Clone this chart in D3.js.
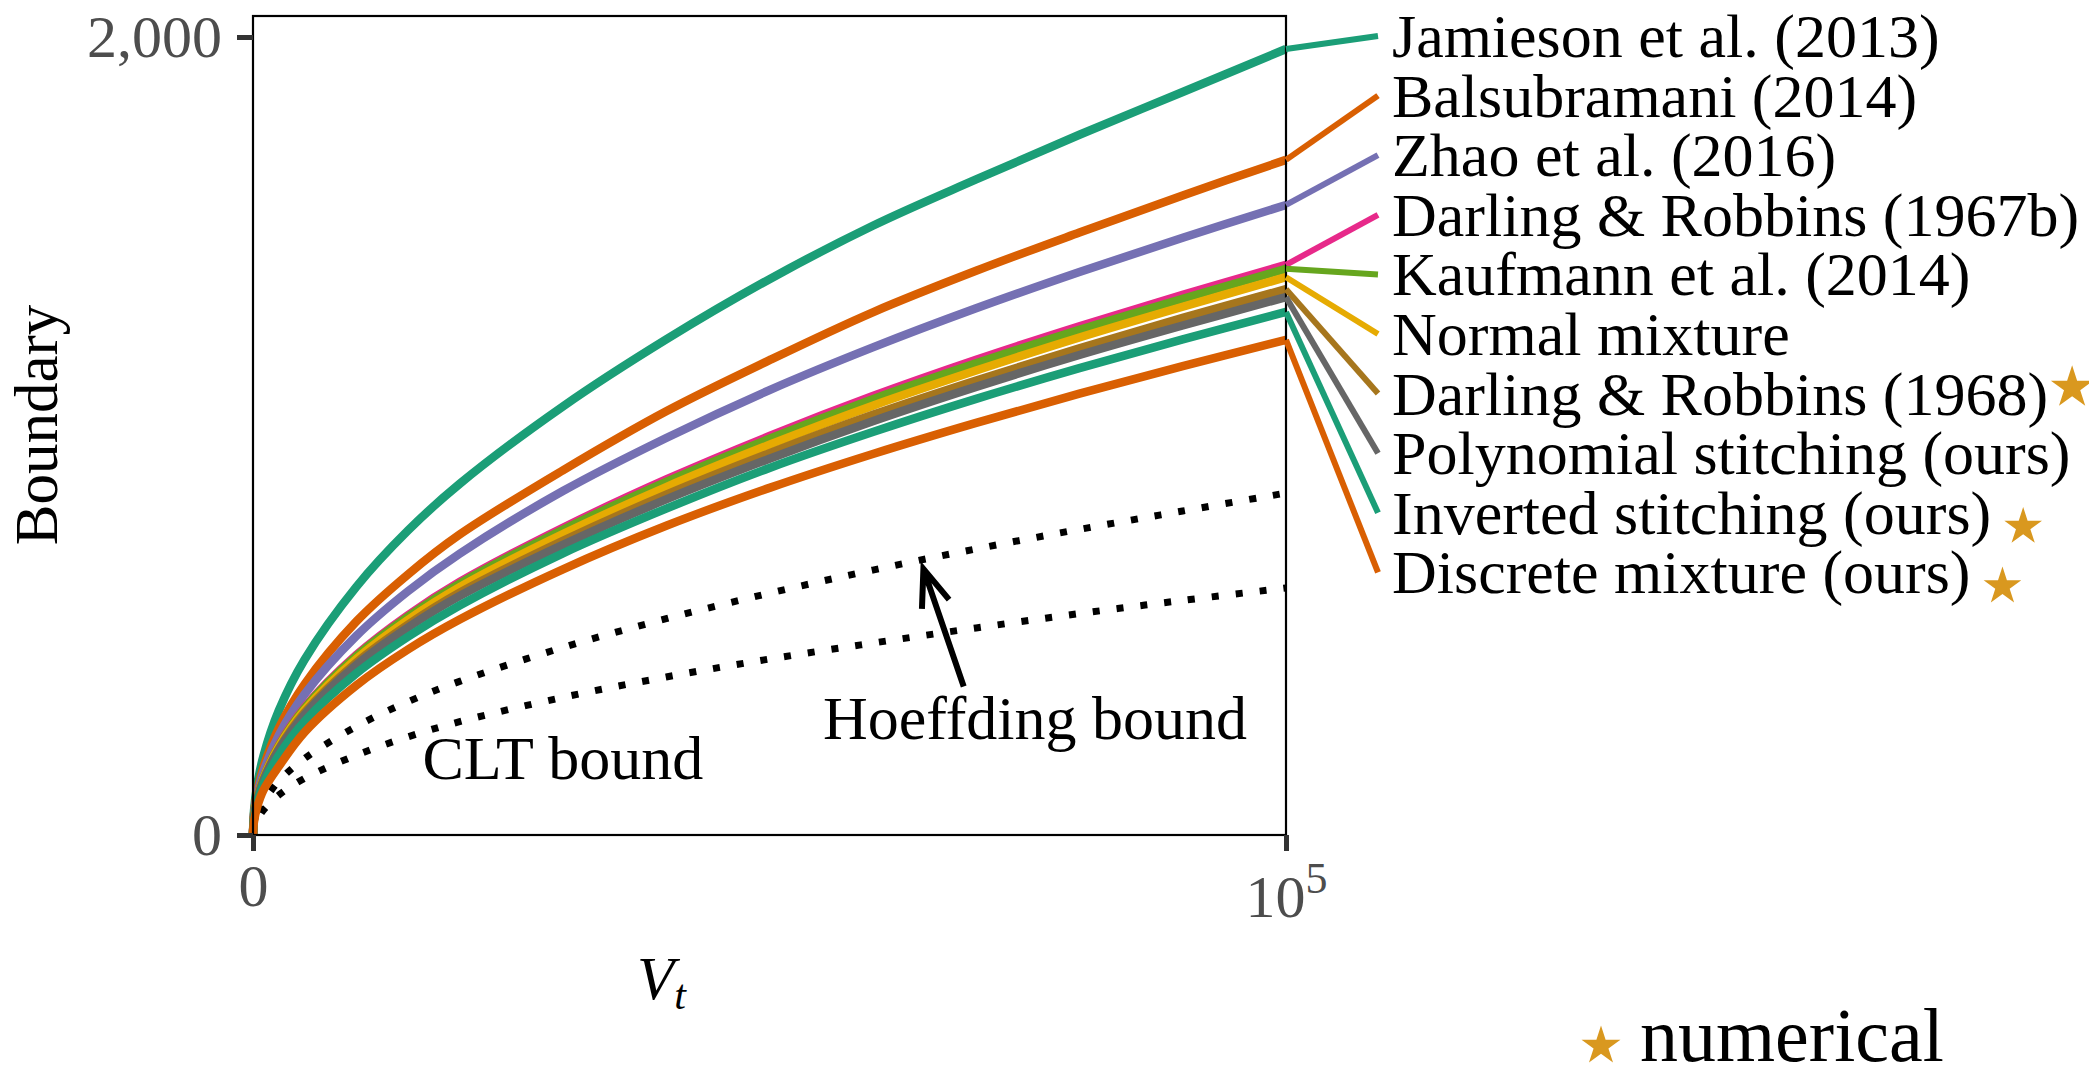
<!DOCTYPE html>
<html>
<head>
<meta charset="utf-8">
<script src="https://cdn.jsdelivr.net/npm/d3@7/dist/d3.min.js"></script>
<style>
body { margin: 0; background: #fff; }
svg { display: block; }
text { font-family: "Liberation Serif", "DejaVu Serif", serif; }
</style>
</head>
<body>
<div id="chart"></div>
<script>
var vt = [0, 100, 400, 1000, 2500, 5000, 10000, 15000, 20000, 30000, 40000, 50000, 60000, 70000, 80000, 90000, 100000];

var names = ["Jamieson et al. (2013)", "Balsubramani (2014)", "Zhao et al. (2016)",
    "Darling & Robbins (1967b)", "Kaufmann et al. (2014)", "Normal mixture",
    "Darling & Robbins (1968)", "Polynomial stitching (ours)", "Inverted stitching (ours)",
    "Discrete mixture (ours)"];
var numerical = [false, false, false, false, false, false, true, false, true, true];

var jamieson   = [0, 62, 124, 197, 312, 440, 622, 763, 880, 1074, 1242, 1393, 1527, 1643, 1755, 1862, 1970];
var balsub     = [0, 53, 107, 169, 268, 378, 535, 653, 753, 914, 1062, 1190, 1310, 1414, 1510, 1603, 1692];
var zhao       = [0, 50, 100, 158, 250, 353, 499, 611, 705, 862, 995, 1115, 1222, 1320, 1411, 1497, 1579];
var darling67  = [0, 45, 91, 143, 226, 320, 451, 551, 634, 770, 891, 1000, 1100, 1191, 1275, 1354, 1429];
var kaufmann   = [0, 45, 90, 142, 224, 318, 448, 547, 630, 765, 885, 993, 1092, 1182, 1266, 1344, 1419];
var normalMix  = [0, 44, 89, 140, 221, 313, 441, 539, 621, 754, 872, 978, 1076, 1164, 1247, 1324, 1398];
var darling68  = [0, 43, 87, 137, 216, 307, 432, 527, 607, 737, 853, 957, 1053, 1139, 1220, 1296, 1368];
var polyStitch = [0, 43, 85, 135, 213, 302, 426, 520, 599, 727, 841, 943, 1037, 1123, 1203, 1277, 1348];
var invStitch  = [0, 40, 80, 127, 200, 285, 405, 497, 575, 706, 818, 920, 1010, 1093, 1170, 1242, 1311];
var discMix    = [0, 34, 70, 112, 172, 258, 375, 465, 540, 666, 775, 870, 955, 1033, 1106, 1175, 1241];

var hoeffding  = [0, 22, 48, 82, 135, 192, 272, 334, 385, 470, 542, 606, 664, 717, 766, 812, 857];
var cltBound   = [0, 18, 38, 62, 100, 142, 200, 246, 284, 345, 396, 441, 481, 519, 555, 588, 619];

var yTicks = [0, 2000];
var yTickLabels = ["0", "2,000"];
var xTicks = [0, 100000];

// annotation anchors, in data units
var cltText = {label: "CLT bound", v: 30000, b: 140};
var hoeffText = {label: "Hoeffding bound", v: 75700, b: 241};
var arrowFrom = [68800, 372];
var arrowTo = [64900, 667];

var series = [jamieson, balsub, zhao, darling67, kaufmann, normalMix, darling68, polyStitch, invStitch, discMix];
var colors = ["#1B9E77", "#D95F02", "#7570B3", "#E7298A", "#66A61E", "#E6AB02", "#A6761D", "#666666", "#1B9E77", "#D95F02"];
var starColor = "#D9981F";

var W = 2089, H = 1069;
var svg = d3.select("#chart").append("svg").attr("width", W).attr("height", H);

var x = d3.scaleLinear().domain([0, 100000]).range([253, 1286]);
var y = d3.scaleLinear().domain([0, 2052.6]).range([835, 16]);

var line = d3.line()
    .x(function(d, i) { return x(vt[i]); })
    .y(function(d) { return y(d); })
    .curve(d3.curveCatmullRom.alpha(0.5));

// dotted reference bounds
[hoeffding, cltBound].forEach(function(s) {
    svg.append("path").attr("d", line(s))
        .attr("fill", "none").attr("stroke", "#000")
        .attr("stroke-width", 7).attr("stroke-dasharray", "7 17");
});

// boundary curves
series.forEach(function(s, i) {
    svg.append("path").attr("d", line(s))
        .attr("fill", "none").attr("stroke", colors[i])
        .attr("stroke-width", 8.5).attr("stroke-linejoin", "round");
});

// panel border
svg.append("rect")
    .attr("x", x(0)).attr("y", y.range()[1])
    .attr("width", x(100000) - x(0)).attr("height", y(0) - y.range()[1])
    .attr("fill", "none").attr("stroke", "#000").attr("stroke-width", 2.2);

// y axis
var yAxis = svg.append("g").attr("transform", "translate(" + x(0) + ",0)")
    .call(d3.axisLeft(y).tickValues(yTicks).tickSize(16).tickPadding(15)
        .tickFormat(function(d, i) { return yTickLabels[i]; }));
yAxis.select(".domain").remove();
yAxis.selectAll("line").attr("stroke", "#333").attr("stroke-width", 5);
yAxis.selectAll("text").attr("font-size", 60).attr("fill", "#4d4d4d")
    .attr("font-family", "Liberation Serif");

// x axis
var xAxis = svg.append("g").attr("transform", "translate(0," + y(0) + ")")
    .call(d3.axisBottom(x).tickValues(xTicks).tickSize(16).tickPadding(14)
        .tickFormat(function(d) { return d === 0 ? "0" : ""; }));
xAxis.select(".domain").remove();
xAxis.selectAll("line").attr("stroke", "#333").attr("stroke-width", 5);
xAxis.selectAll("text").attr("font-size", 60).attr("fill", "#4d4d4d")
    .attr("font-family", "Liberation Serif")
    .each(function(d) {
        var t = d3.select(this);
        if (d === 0) {
            t.attr("dy", null).attr("y", 71);
        } else {
            t.attr("dy", null).attr("y", 82);
            t.append("tspan").text("10");
            t.append("tspan").text("5").attr("font-size", 44).attr("dy", -24);
        }
    });

// axis titles
svg.append("text")
    .attr("transform", "translate(57,425) rotate(-90)")
    .attr("text-anchor", "middle").attr("font-size", 61).text("Boundary");

var vtTitle = svg.append("text").attr("x", 637).attr("y", 999)
    .attr("font-size", 61).attr("font-style", "italic");
vtTitle.append("tspan").text("V");
vtTitle.append("tspan").text("t").attr("font-size", 42).attr("dy", 10);

// annotations
svg.append("text").attr("x", x(cltText.v)).attr("y", y(cltText.b))
    .attr("text-anchor", "middle").attr("font-size", 62).text(cltText.label);
svg.append("text").attr("x", x(hoeffText.v)).attr("y", y(hoeffText.b))
    .attr("text-anchor", "middle").attr("font-size", 62).text(hoeffText.label);

var ax0 = x(arrowFrom[0]), ay0 = y(arrowFrom[1]);
var ax1 = x(arrowTo[0]), ay1 = y(arrowTo[1]);
var ang = Math.atan2(ay0 - ay1, ax0 - ax1);
var headLen = 40, headAng = 21 * Math.PI / 180;
svg.append("path")
    .attr("d", "M" + ax0 + "," + ay0 + "L" + ax1 + "," + ay1 +
        "M" + (ax1 + headLen * Math.cos(ang - headAng)) + "," + (ay1 + headLen * Math.sin(ang - headAng)) +
        "L" + ax1 + "," + ay1 +
        "L" + (ax1 + headLen * Math.cos(ang + headAng)) + "," + (ay1 + headLen * Math.sin(ang + headAng)))
    .attr("fill", "none").attr("stroke", "#000").attr("stroke-width", 6)
    .attr("stroke-linejoin", "miter");

// right-side labels with connectors
var labelX = 1378, labelTop = 36, labelStep = 59.6;
var star = d3.symbol().type(d3.symbolStar);
names.forEach(function(name, i) {
    var s = series[i];
    var ly = labelTop + i * labelStep;
    svg.append("line")
        .attr("x1", x(100000)).attr("y1", y(s[s.length - 1]))
        .attr("x2", labelX).attr("y2", ly)
        .attr("stroke", colors[i]).attr("stroke-width", 6);
    var t = svg.append("text").attr("x", labelX + 14).attr("y", ly + 21)
        .attr("font-size", 62).attr("fill", "#000").text(name);
    if (numerical[i]) {
        var end = labelX + 14 + t.node().getComputedTextLength();
        var big = (i === 6);
        svg.append("path").attr("d", star.size(big ? 560 : 440)())
            .attr("transform", "translate(" + (end + (big ? 24 : 32)) + "," + (ly + (big ? -6 : 14)) + ")")
            .attr("fill", starColor);
    }
});

// legend for the star
svg.append("path").attr("d", star.size(470)())
    .attr("transform", "translate(1601,1046)").attr("fill", starColor);
svg.append("text").attr("x", 1640).attr("y", 1061)
    .attr("font-size", 76).text("numerical");
</script>
</body>
</html>
